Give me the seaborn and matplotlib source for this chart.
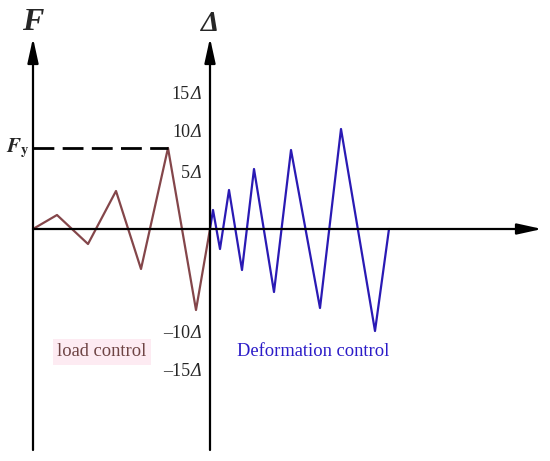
import matplotlib.pyplot as plt
import seaborn as sns
import pandas as pd

# loading history (time along x, amplitude up), origin at the F axis / baseline
load_t = [0, 24, 55, 83, 108, 135, 163, 177]
load_f = [0, 14, -15, 38, -40, 81, -81, 0]
deform_t = [177, 180, 187, 196, 209, 221, 241, 258, 287, 308, 342, 356]
deform_d = [0, 19, -20, 39, -41, 60, -63, 79, -79, 100, -102, 0]

fy_level = 81
fy_end = 135
delta_axis = 177
tick_numbers = ['15', '10', '5', '\u201310', '\u201315']
tick_pos = [134, 96, 56, -105, -142]

sns.set_style('white')
plt.rcParams['mathtext.fontset'] = 'stix'
plt.rcParams['font.family'] = ['Liberation Serif', 'DejaVu Serif']

fig = plt.figure(figsize=(5.5, 4.61), dpi=100)
ax = fig.add_axes([0, 0, 1, 1])
ax.set_xlim(-33, 517)
ax.set_ylim(-232, 229)
ax.axis('off')

brown = '#84464a'
blue = '#2a1ab4'

df_load = pd.DataFrame({'t': load_t, 'v': load_f})
df_def = pd.DataFrame({'t': deform_t, 'v': deform_d})
sns.lineplot(data=df_load, x='t', y='v', sort=False, estimator=None,
             color=brown, lw=1.6, ax=ax)
sns.lineplot(data=df_def, x='t', y='v', sort=False, estimator=None,
             color=blue, lw=1.6, ax=ax)

# axes with arrows
arrow = dict(arrowstyle='-|>,head_length=1.0,head_width=0.22', mutation_scale=15,
             lw=1.6, color='black', shrinkA=0, shrinkB=0)
ax.annotate('', xy=(0, 191), xytext=(0, -221), arrowprops=arrow)
ax.annotate('', xy=(delta_axis, 191), xytext=(delta_axis, -221), arrowprops=arrow)
ax.annotate('', xy=(509, 0), xytext=(0, 0), arrowprops=arrow)

# yield load dashed line
ax.plot([0, fy_end], [fy_level, fy_level], color='black', lw=2,
        linestyle=(0, (7.5, 3)))
ax.text(-3, fy_level, '$\\mathbfit{F}_{\\mathbf{y}}$', ha='right', va='center', fontsize=15)

ax.text(0, 206, 'F', ha='center', va='center', fontsize=23,
        fontweight='bold', fontstyle='italic')
ax.text(delta_axis, 205, '\u0394', ha='center', va='center', fontsize=21,
        fontweight='bold', fontstyle='italic')

for num, p in zip(tick_numbers, tick_pos):
    ax.text(delta_axis - 9, p, '\u0394', ha='right', va='center', fontsize=13,
            fontstyle='italic')
    ax.text(delta_axis - 20, p, num, ha='right', va='center', fontsize=13)

ax.text(24, -123, 'load control', ha='left', va='center', fontsize=13.3, color='#6e4444',
        bbox=dict(facecolor='#fdebf2', edgecolor='none', pad=3))
ax.text(204, -123, 'Deformation control', ha='left', va='center', fontsize=13.3,
        color='#2b1bc8')

fig.savefig('out.png', dpi=100)
